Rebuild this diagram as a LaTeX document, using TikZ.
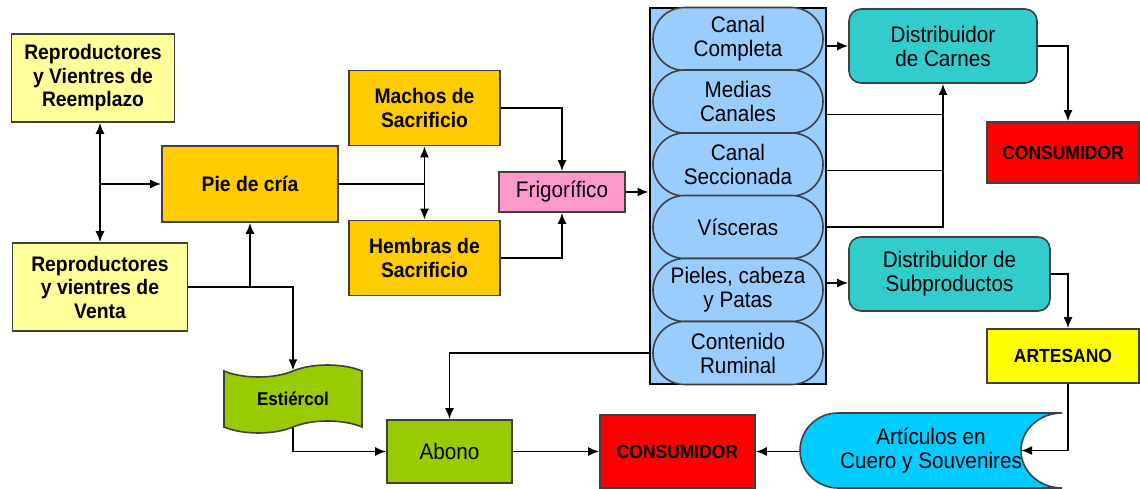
\documentclass[tikz,border=0pt]{standalone}
\usepackage{fontspec}
\setmainfont[FakeStretch=0.92]{Liberation Sans}
\usetikzlibrary{arrows.meta,shapes.symbols,shapes.misc}
\definecolor{lightyel}{HTML}{FFFF99}
\definecolor{orng}{HTML}{FFCC00}
\definecolor{pnk}{HTML}{FF99CC}
\definecolor{lblue}{HTML}{99CCFF}
\definecolor{tealc}{HTML}{33CCCC}
\definecolor{redc}{HTML}{FF0000}
\definecolor{yelc}{HTML}{FFFF00}
\definecolor{greenc}{HTML}{99CC00}
\definecolor{cyanc}{HTML}{00CCFF}

\begin{document}
\begin{tikzpicture}[x=1pt,y=1pt,>={Latex[length=11pt,width=9pt]},
  line width=1.9pt,
  box/.style={draw=black!75,line width=1.6pt,inner sep=1pt,align=center},
  regf/.style={font=\fontsize{22.5}{24}\selectfont},
  boldf/.style={font=\fontsize{21}{23.5}\selectfont\bfseries},
  capsf/.style={font=\fontsize{19}{21}\selectfont\bfseries},
  cut/.style={box,regf,rounded rectangle,fill=lblue,minimum width=172,minimum height=63},
  dist/.style={box,regf,rounded corners=12pt,fill=tealc}]
  \useasboundingbox (0,0) rectangle (1140,489);
%%
  % Node: reemp
  \node[box,boldf,fill=lightyel,minimum width=163,minimum height=88] (reemp) at (93,411) {Reproductores\\y Vientres de\\Reemplazo};
  % Node: venta
  \node[box,boldf,fill=lightyel,minimum width=175,minimum height=88] (venta) at (100,202) {Reproductores\\y vientres de\\Venta};
  % Node: pie
  \node[box,boldf,fill=orng,minimum width=176,minimum height=76] (pie) at (250,305) {Pie de cría};
  % Node: machos
  \node[box,boldf,fill=orng,minimum width=151,minimum height=75] (machos) at (424.5,381) {Machos de\\Sacrificio};
  % Node: hembras
  \node[box,boldf,fill=orng,minimum width=151,minimum height=75] (hembras) at (424.5,231) {Hembras de\\Sacrificio};
  % Node: frig
  \node[box,regf,fill=pnk,minimum width=126,minimum height=40] (frig) at (562,297) {Frigorífico};
  % Node: box
  \node[draw=black,line width=2.8pt,fill=lblue,minimum width=176,minimum height=376,inner sep=0pt] (box) at (738,293) {};
  \node[cut] (canal) at (738,450) {Canal\\Completa};
  \node[cut] (medias) at (738,387.5) {Medias\\Canales};
  \node[cut] (secc) at (738,324.5) {Canal\\Seccionada};
  \node[cut] (visc) at (738,262) {Vísceras};
  \node[cut] (pieles) at (738,199) {Pieles, cabeza\\y Patas};
  \node[cut] (rum) at (738,136) {Contenido\\Ruminal};
  % Node: carnes
  \node[dist,minimum width=188,minimum height=74] (carnes) at (943,443) {Distribuidor\\de Carnes};
  % Node: cons1
  \node[box,capsf,fill=redc,minimum width=152,minimum height=61] (cons1) at (1063,336.5) {CONSUMIDOR};
  % Node: subprod
  \node[dist,minimum width=201,minimum height=74] (subprod) at (949.5,215) {Distribuidor de\\Subproductos};
  % Node: artesano
  \node[box,capsf,fill=yelc,minimum width=152,minimum height=54] (artesano) at (1063,133) {ARTESANO};
  % Node: estiercol
  \node[box,tape,font=\fontsize{18.5}{20}\selectfont\bfseries,fill=greenc,minimum width=138,minimum height=68,tape bend height=12pt] (estiercol) at (293,90) {Estiércol};
  % Node: abono
  \node[box,regf,fill=greenc,minimum width=125,minimum height=63] (abono) at (449.5,37.5) {Abono};
  % Node: cons2
  \node[box,capsf,fill=redc,minimum width=155,minimum height=73] (cons2) at (677.5,37.5) {CONSUMIDOR};
  % Node: art
  \draw[draw=black!75,line width=1.6pt,fill=cyanc] (1062,76) -- (838,76)
    arc[start angle=90,end angle=270,x radius=38,y radius=37.5] -- (1062,1)
    arc[start angle=270,end angle=90,x radius=41,y radius=37.5];
  \node[regf,align=center] (art) at (931,38) {Artículos en\\Cuero y Souvenires};
  \coordinate (artdent) at (1021,38.5);
  \coordinate (artleft) at (800,37.5);
%%
  % Edge: reemp <-> venta, -> pie
  \coordinate (split) at (100,305);
  \draw[<->] (reemp.south -| split) -- (venta.north -| split);
  \draw[->] (split) -- (pie.west);
  % Edge: pie -> machos / hembras
  \draw (pie.east) -- (pie.east -| machos.south);
  \draw[<->] (machos.south) -- (hembras.north);
  % Edge: venta -> pie, estiercol
  \draw[->] (venta.east) -| (estiercol.north);
  \draw[->] (venta.east -| pie.south) -- (pie.south);
  % Edge: machos, hembras -> frig
  \draw[->] (machos.east) -| (frig.north);
  \draw[->] (hembras.east) -| (frig.south);
  % Edge: frig -> box
  \draw[->] (frig.east) -- (frig.east -| box.west);
  % Edge: canal -> carnes
  \draw[->] (carnes.west -| box.east) -- (carnes.west);
  % Edge: medias, secc, visc -> carnes
  \draw ([yshift=-13pt]medias.east -| box.east) -- ([yshift=-13pt]medias.east -| carnes.south);
  \draw ([yshift=-6pt]secc.east -| box.east) -- ([yshift=-6pt]secc.east -| carnes.south);
  \draw[->] (visc.east -| box.east) -| (carnes.south);
  % Edge: pieles -> subprod
  \draw[->] ([yshift=-9pt]subprod.west -| box.east) -- ([yshift=-9pt]subprod.west);
  % Edge: carnes -> cons1, subprod -> artesano -> art
  \draw[->] (carnes.east) -| ([xshift=5pt]cons1.north);
  \draw[->] (subprod.east) -| ([xshift=5pt]artesano.north);
  \draw[->] ([xshift=5pt]artesano.south) |- (artdent);
  % Edge: rum -> abono, estiercol -> abono
  \draw[->] (rum.west -| box.west) -| (abono.north);
  \draw[->] (estiercol.south) |- (abono.west);
  % Edge: abono -> cons2 <- art
  \draw[->] (abono.east) -- (cons2.west);
  \draw[->] (artleft) -- (cons2.east);
%
\end{tikzpicture}
\end{document}
